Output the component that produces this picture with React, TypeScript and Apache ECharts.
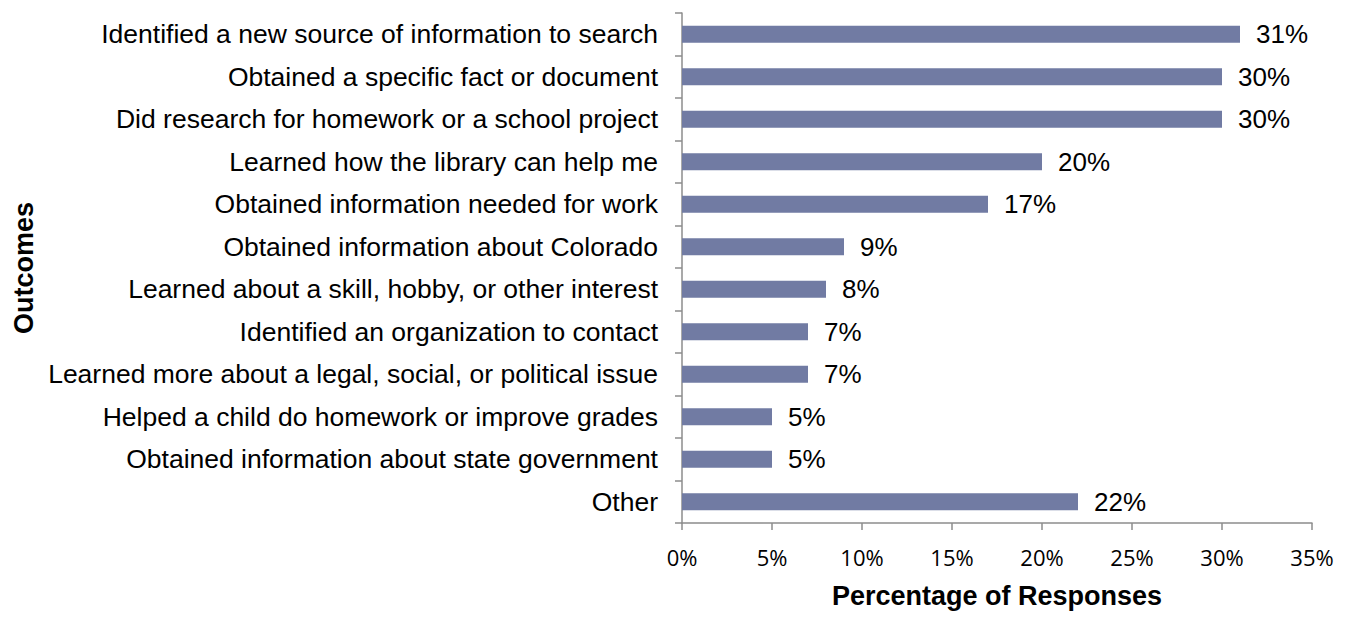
import React, { useEffect, useRef } from "react";
import * as echarts from "echarts";

const categories = [
  "Identified a new source of information to search",
  "Obtained a specific fact or document",
  "Did research for homework or a school project",
  "Learned how the library can help me",
  "Obtained information needed for work",
  "Obtained information about Colorado",
  "Learned about a skill, hobby, or other interest",
  "Identified an organization to contact",
  "Learned more about a legal, social, or political issue",
  "Helped a child do homework or improve grades",
  "Obtained information about state government",
  "Other",
];
const values = [31, 30, 30, 20, 17, 9, 8, 7, 7, 5, 5, 22];
const xTicks = [0, 5, 10, 15, 20, 25, 30, 35];

export default function App() {
  const ref = useRef<HTMLDivElement>(null);
  useEffect(() => {
    const chart = echarts.init(ref.current!, null, { renderer: "svg" });
    chart.setOption({
      animation: false,
      grid: { left: 674, right: 31, top: 5, bottom: 81, containLabel: false },
      xAxis: {
        type: "value",
        min: xTicks[0],
        max: xTicks[xTicks.length - 1],
        interval: 5,
        splitLine: { show: false },
        axisLine: { show: true, lineStyle: { color: "#8c8c8c", width: 1.5 } },
        axisTick: { show: true, length: 7, lineStyle: { color: "#8c8c8c", width: 1.5 } },
        axisLabel: {
          formatter: "{value}%",
          color: "#000",
          fontFamily: "Open Sans",
          fontSize: 22,
          margin: 23,
        },
        name: "Percentage of Responses",
        nameLocation: "middle",
        nameGap: 59,
        nameTextStyle: {
          fontFamily: "Liberation Sans",
          fontWeight: "bold",
          fontSize: 27,
          color: "#000",
        },
      },
      yAxis: {
        type: "category",
        inverse: true,
        data: categories,
        axisLine: { show: true, lineStyle: { color: "#8c8c8c", width: 1.5 } },
        axisTick: { show: true, length: 7, lineStyle: { color: "#8c8c8c", width: 1.5 } },
        axisLabel: {
          color: "#000",
          fontFamily: "Liberation Sans",
          fontSize: 26.5,
          margin: 24,
        },
        name: "Outcomes",
        nameLocation: "middle",
        nameGap: 645,
        nameTextStyle: {
          fontFamily: "Liberation Sans",
          fontWeight: "bold",
          fontSize: 27,
          color: "#000",
        },
      },
      series: [
        {
          type: "bar",
          data: values,
          barWidth: 17,
          itemStyle: { color: "#717ba3" },
          label: {
            show: true,
            position: "right",
            distance: 16,
            formatter: "{c}%",
            color: "#000",
            fontFamily: "Liberation Sans",
            fontSize: 26,
          },
        },
      ],
    });
    return () => chart.dispose();
  }, []);
  return <div ref={ref} style={{ width: 1335, height: 606 }} />;
}
